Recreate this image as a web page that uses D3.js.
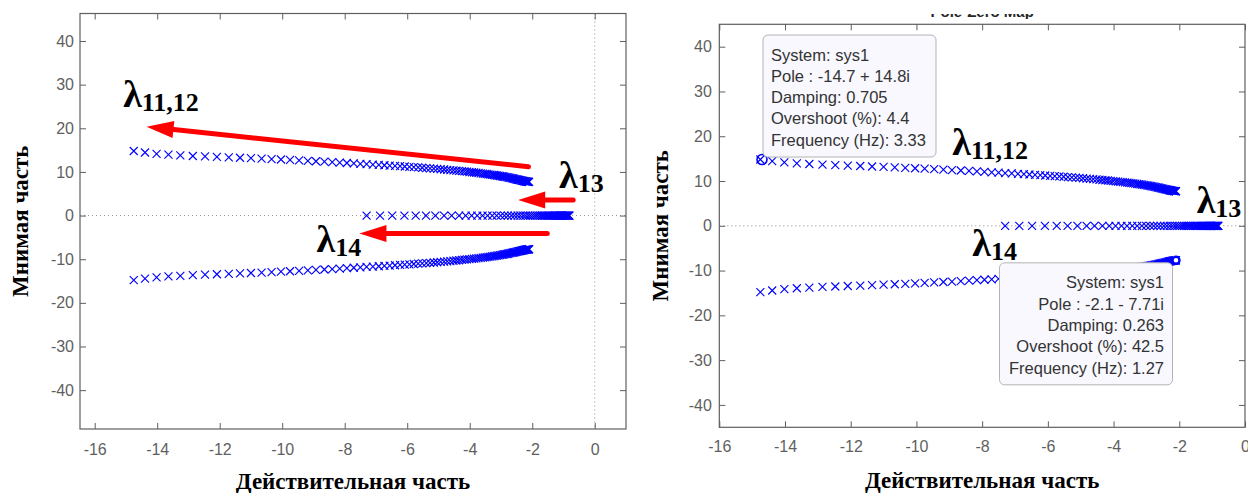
<!DOCTYPE html>
<html>
<head>
<meta charset="utf-8">
<script src="https://cdn.jsdelivr.net/npm/d3@7"></script>
<style>
  body { margin: 0; background: #fff; }
  svg { display: block; }
  .tick text { font-family: "Liberation Sans", Arial, sans-serif; font-size: 16px; fill: #5f5f5f; }
  .tick line { stroke: #5f5f5f; }
  .lbl { font-family: "Liberation Serif", "Times New Roman", serif; font-weight: bold; font-size: 23px; fill: #000; }
  .lam { font-family: "Liberation Serif", "Times New Roman", serif; font-weight: bold; fill: #000; }
  .tip text { font-family: "Liberation Sans", Arial, sans-serif; font-size: 16.5px; fill: #333; }
</style>
</head>
<body>
<svg id="chart" width="1248" height="493"></svg>
<script>
// ---- данные: полюса (действительная / мнимая часть) ----
// ветвь λ11 (верхняя)
const upperRe = [-14.75, -14.39, -14.02, -13.64, -13.26, -12.86, -12.47, -12.09, -11.71, -11.35,
  -11.00, -10.66, -10.34, -10.04, -9.75, -9.46, -9.18, -8.92, -8.65, -8.40,
  -8.16, -7.93, -7.71, -7.50, -7.30, -7.10, -6.91, -6.73, -6.56, -6.39,
  -6.23, -6.08, -5.93, -5.79, -5.65, -5.52, -5.39, -5.27, -5.15, -5.04,
  -4.93, -4.82, -4.72, -4.62, -4.52, -4.43, -4.34, -4.25, -4.17, -4.09,
  -4.01, -3.93, -3.86, -3.79, -3.72, -3.65, -3.58, -3.52, -3.46, -3.40,
  -3.34, -3.28, -3.23, -3.18, -3.13, -3.08, -3.03, -2.98, -2.94, -2.90,
  -2.86, -2.82, -2.78, -2.74, -2.70, -2.66, -2.63, -2.60, -2.57, -2.54,
  -2.51, -2.48, -2.45, -2.42, -2.39, -2.36, -2.33, -2.31, -2.29, -2.27,
  -2.25, -2.23, -2.21, -2.19, -2.17, -2.15, -2.13, -2.11, -2.10];
const upperIm = [14.80, 14.45, 14.15, 13.95, 13.80, 13.65, 13.55, 13.45, 13.35, 13.25,
  13.15, 13.05, 12.95, 12.85, 12.75, 12.65, 12.55, 12.45, 12.35, 12.25,
  12.15, 12.05, 11.95, 11.86, 11.77, 11.69, 11.61, 11.53, 11.45, 11.38,
  11.31, 11.24, 11.17, 11.10, 11.03, 10.96, 10.89, 10.82, 10.75, 10.69,
  10.62, 10.55, 10.49, 10.42, 10.35, 10.29, 10.23, 10.17, 10.11, 10.05,
  9.99, 9.93, 9.87, 9.81, 9.75, 9.69, 9.63, 9.57, 9.52, 9.46,
  9.40, 9.34, 9.29, 9.24, 9.18, 9.13, 9.07, 9.01, 8.96, 8.91,
  8.85, 8.80, 8.74, 8.68, 8.62, 8.56, 8.51, 8.46, 8.41, 8.36,
  8.31, 8.26, 8.21, 8.16, 8.11, 8.06, 8.01, 7.97, 7.94, 7.91,
  7.88, 7.85, 7.82, 7.79, 7.77, 7.75, 7.73, 7.72, 7.71];
// ветвь λ12 (нижняя, сопряжённая)
const lowerRe = upperRe;
const lowerIm = [-14.80, -14.45, -14.15, -13.95, -13.80, -13.65, -13.55, -13.45, -13.35, -13.25,
  -13.15, -13.05, -12.95, -12.85, -12.75, -12.65, -12.55, -12.45, -12.35, -12.25,
  -12.15, -12.05, -11.95, -11.86, -11.77, -11.69, -11.61, -11.53, -11.45, -11.38,
  -11.31, -11.24, -11.17, -11.10, -11.03, -10.96, -10.89, -10.82, -10.75, -10.69,
  -10.62, -10.55, -10.49, -10.42, -10.35, -10.29, -10.23, -10.17, -10.11, -10.05,
  -9.99, -9.93, -9.87, -9.81, -9.75, -9.69, -9.63, -9.57, -9.52, -9.46,
  -9.40, -9.34, -9.29, -9.24, -9.18, -9.13, -9.07, -9.01, -8.96, -8.91,
  -8.85, -8.80, -8.74, -8.68, -8.62, -8.56, -8.51, -8.46, -8.41, -8.36,
  -8.31, -8.26, -8.21, -8.16, -8.11, -8.06, -8.01, -7.97, -7.94, -7.91,
  -7.88, -7.85, -7.82, -7.79, -7.77, -7.75, -7.73, -7.72, -7.71];
// ветвь λ13 (действительная ось)
const realRe = [-7.30, -6.87, -6.48, -6.09, -5.73, -5.40, -5.10, -4.82, -4.58, -4.34,
  -4.13, -3.94, -3.76, -3.59, -3.43, -3.28, -3.14, -3.01, -2.89, -2.78,
  -2.67, -2.57, -2.47, -2.38, -2.29, -2.21, -2.13, -2.06, -1.99, -1.92,
  -1.86, -1.80, -1.74, -1.69, -1.64, -1.59, -1.54, -1.50, -1.46, -1.42,
  -1.38, -1.34, -1.30, -1.27, -1.24, -1.21, -1.18, -1.15, -1.12, -1.10,
  -1.08, -1.06, -1.04, -1.02, -1.00, -0.98, -0.96, -0.94, -0.92, -0.90,
  -0.88, -0.86, -0.84, -0.82, -0.81];

const xTicks = [-16, -14, -12, -10, -8, -6, -4, -2, 0];
const xTickLabels = ["-16", "-14", "-12", "-10", "-8", "-6", "-4", "-2", "0"];
const yTicks = [-40, -30, -20, -10, 0, 10, 20, 30, 40];
const yTickLabels = ["-40", "-30", "-20", "-10", "0", "10", "20", "30", "40"];

const xTitle = "Действительная часть";
const yTitle = "Мнимая часть";

// подписи и стрелки (в координатах осей)
const leftLabels = [
  { re: -15.09, im: 24.87, sub: "11,12" },
  { re: -1.14, im: 6.30, sub: "13" },
  { re: -8.90, im: -8.37, sub: "14" }
];
const leftArrows = [
  { from: [-2.12, 11.19], to: [-14.34, 20.36] },
  { from: [-0.69, 3.55], to: [-2.45, 3.55] },
  { from: [-1.52, -4.08], to: [-7.53, -4.08] }
];
const rightLabels = [
  { re: -8.91, im: 15.8, sub: "11,12" },
  { re: -1.47, im: 2.83, sub: "13" },
  { re: -8.30, im: -6.68, sub: "14" }
];
// подсказки (datatips)
const tip1 = { re: -14.7, im: 14.8, lines: ["System: sys1", "Pole : -14.7 + 14.8i", "Damping: 0.705", "Overshoot (%): 4.4", "Frequency (Hz): 3.33"] };
const tip2 = { re: -2.1, im: -7.71, lines: ["System: sys1", "Pole : -2.1 - 7.71i", "Damping: 0.263", "Overshoot (%): 42.5", "Frequency (Hz): 1.27"] };

const svg = d3.select("#chart");

const upperPts = upperRe.map((r, i) => [r, upperIm[i]]);
const lowerPts = lowerRe.map((r, i) => [r, lowerIm[i]]);
const realPts = realRe.map(r => [r, 0]);

function drawPanel(p) {
  const x = d3.scaleLinear().domain(p.xDomain).range([p.left, p.right]);
  const y = d3.scaleLinear().domain(p.yDomain).range([p.bottom, p.top]);
  const g = svg.append("g");

  g.append("clipPath").attr("id", p.id + "clip")
    .append("rect").attr("x", p.left).attr("y", p.top)
    .attr("width", p.right - p.left).attr("height", p.bottom - p.top);

  // пунктир по нулям
  g.append("line")
    .attr("x1", p.left).attr("x2", p.right).attr("y1", y(0)).attr("y2", y(0))
    .attr("stroke", "#8c8c8c").attr("stroke-dasharray", "1,3");
  if (x(0) < p.right - 1) {
    g.append("line")
      .attr("x1", x(0)).attr("x2", x(0)).attr("y1", p.top).attr("y2", p.bottom)
      .attr("stroke", "#8c8c8c").attr("stroke-dasharray", "1,3");
  }

  // оси
  const fx = d => xTickLabels[xTicks.indexOf(d)];
  const fy = d => yTickLabels[yTicks.indexOf(d)];
  g.append("g").attr("transform", `translate(0,${p.bottom})`)
    .call(d3.axisBottom(x).tickValues(xTicks).tickSizeInner(-6).tickSizeOuter(0).tickPadding(p.xPad).tickFormat(fx))
    .call(a => a.select(".domain").remove());
  g.append("g").attr("transform", `translate(0,${p.top})`)
    .call(d3.axisTop(x).tickValues(xTicks).tickSizeInner(-6).tickSizeOuter(0).tickFormat(""))
    .call(a => a.select(".domain").remove());
  g.append("g").attr("transform", `translate(${p.left},0)`)
    .call(d3.axisLeft(y).tickValues(yTicks).tickSizeInner(-6).tickSizeOuter(0).tickPadding(p.yPad).tickFormat(fy))
    .call(a => a.select(".domain").remove());
  g.append("g").attr("transform", `translate(${p.right},0)`)
    .call(d3.axisRight(y).tickValues(yTicks).tickSizeInner(-6).tickSizeOuter(0).tickFormat(""))
    .call(a => a.select(".domain").remove());
  g.selectAll(".tick line").attr("stroke", "#5f5f5f");

  g.append("rect")
    .attr("x", p.left).attr("y", p.top)
    .attr("width", p.right - p.left).attr("height", p.bottom - p.top)
    .attr("fill", "none").attr("stroke", "#5f5f5f").attr("stroke-width", 1.2);

  // полюса
  const marks = g.append("g").attr("clip-path", `url(#${p.id}clip)`);
  [upperPts, realPts, lowerPts].forEach(pts => {
    marks.append("g").selectAll("path").data(pts).join("path")
      .attr("d", "M-4,-4L4,4M-4,4L4,-4")
      .attr("transform", d => `translate(${x(d[0])},${y(d[1])})`)
      .attr("fill", "none").attr("stroke", "#0000ff").attr("stroke-width", 1.15);
  });

  // подписи осей
  g.append("text").attr("class", "lbl")
    .attr("x", (p.left + p.right) / 2).attr("y", p.xTitleY)
    .attr("text-anchor", "middle").text(xTitle);
  g.append("text").attr("class", "lbl")
    .attr("transform", `translate(${p.yTitleX},${(p.top + p.bottom) / 2}) rotate(-90)`)
    .attr("text-anchor", "middle").text(yTitle);

  return { x, y, g };
}

function drawLambda(g, x, y, d) {
  const t = g.append("text").attr("class", "lam")
    .attr("x", x(d.re)).attr("y", y(d.im));
  t.append("tspan").attr("font-size", 38).text("λ");
  t.append("tspan").attr("font-size", 26).attr("dy", 4).text(d.sub);
}

function drawArrow(g, x, y, a) {
  const x1 = x(a.from[0]), y1 = y(a.from[1]);
  const x2 = x(a.to[0]), y2 = y(a.to[1]);
  const ang = Math.atan2(y2 - y1, x2 - x1);
  const len = 27, hw = 8.5;
  const bx = x2 - len * Math.cos(ang), by = y2 - len * Math.sin(ang);
  g.append("line")
    .attr("x1", x1).attr("y1", y1).attr("x2", bx + 2 * Math.cos(ang)).attr("y2", by + 2 * Math.sin(ang))
    .attr("stroke", "#ff0000").attr("stroke-width", 5).attr("stroke-linecap", "round");
  const px = -Math.sin(ang), py = Math.cos(ang);
  g.append("path")
    .attr("d", `M${x2},${y2}L${bx + hw * px},${by + hw * py}L${bx - hw * px},${by - hw * py}Z`)
    .attr("fill", "#ff0000");
}

function drawTip(g, x, y, t, side) {
  const px = x(t.re), py = y(t.im);
  const w = 173, h = 122;
  const bx = side === "above" ? px + 1 : px - 3.5 - w;
  const by = side === "above" ? py - 2.5 - h : py + 2.5;
  g.append("circle").attr("cx", px).attr("cy", py).attr("r", side === "above" ? 5 : 3.5)
    .attr("fill", side === "above" ? "none" : "#fff").attr("stroke", "#0000ff")
    .attr("stroke-width", side === "above" ? 1.6 : 2.4);
  const tg = g.append("g").attr("class", "tip");
  tg.append("rect").attr("x", bx).attr("y", by).attr("width", w).attr("height", h)
    .attr("rx", 5).attr("fill", "#f8f8fe").attr("stroke", "#b4b4b4").attr("stroke-width", 1);
  tg.selectAll("text").data(t.lines).join("text")
    .attr("x", side === "above" ? bx + 8 : bx + w - 8.5)
    .attr("y", (d, i) => by + 25.5 + i * 21.3)
    .attr("text-anchor", side === "above" ? "start" : "end")
    .text(d => d);
}

// левая панель
const L = drawPanel({ id: "L", left: 80, right: 626, top: 13.5, bottom: 429,
  xDomain: [-16.47, 1.0], yDomain: [-48.9, 46.3], xPad: 15, yPad: 6, xTitleY: 489, yTitleX: 28 });
leftArrows.forEach(a => drawArrow(L.g, L.x, L.y, a));
leftLabels.forEach(d => drawLambda(L.g, L.x, L.y, d));

// правая панель
const R = drawPanel({ id: "R", left: 719.3, right: 1245, top: 24.3, bottom: 427.3,
  xDomain: [-16, 0], yDomain: [-45, 45], xPad: 13, yPad: 7.5, xTitleY: 488, yTitleX: 668 });
rightLabels.forEach(d => drawLambda(R.g, R.x, R.y, d));
drawTip(R.g, R.x, R.y, tip1, "above");
drawTip(R.g, R.x, R.y, tip2, "below");

// обрезанный сверху заголовок справа
svg.append("clipPath").attr("id", "titleClip")
  .append("rect").attr("x", 700).attr("y", 14).attr("width", 548).attr("height", 5);
svg.append("text")
  .attr("x", (719.3 + 1245) / 2).attr("y", 17)
  .attr("text-anchor", "middle").attr("clip-path", "url(#titleClip)")
  .attr("font-family", "Liberation Sans, Arial, sans-serif").attr("font-weight", "bold")
  .attr("font-size", 15).attr("fill", "#262626")
  .text("Pole-Zero Map");
</script>
</body>
</html>
